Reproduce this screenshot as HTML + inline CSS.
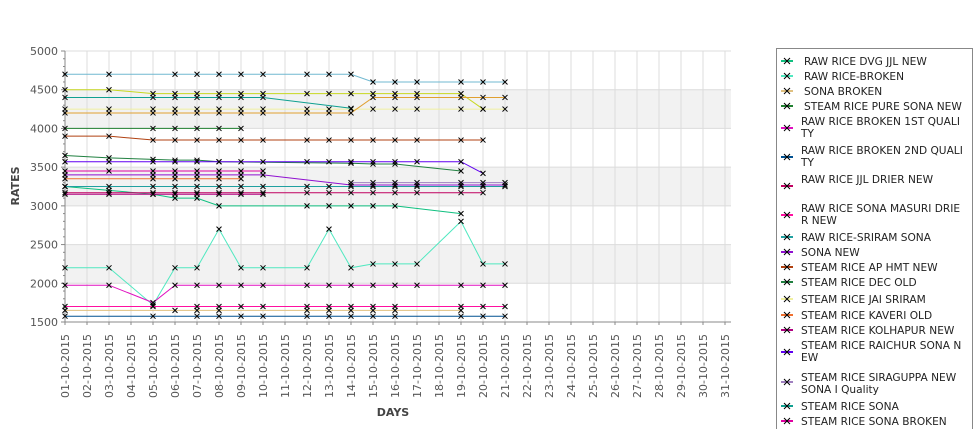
<!DOCTYPE html>
<html><head><meta charset="utf-8"><style>
body{margin:0;background:#fff;width:975px;height:429px;overflow:hidden;font-family:"DejaVu Sans","Liberation Sans",sans-serif}
svg{position:absolute;left:0;top:0}
</style></head><body>
<svg id="chart" width="975" height="429" xmlns="http://www.w3.org/2000/svg"></svg>
<script>
const categories=["01-10-2015","02-10-2015","03-10-2015","04-10-2015","05-10-2015","06-10-2015","07-10-2015","08-10-2015","09-10-2015","10-10-2015","11-10-2015","12-10-2015","13-10-2015","14-10-2015","15-10-2015","16-10-2015","17-10-2015","18-10-2015","19-10-2015","20-10-2015","21-10-2015","22-10-2015","23-10-2015","24-10-2015","25-10-2015","26-10-2015","27-10-2015","28-10-2015","29-10-2015","30-10-2015","31-10-2015"];
const yTicks=[1500,2000,2500,3000,3500,4000,4500,5000];
const seriesNames=["RAW RICE DVG JJL NEW","RAW RICE-BROKEN","SONA BROKEN","STEAM RICE PURE SONA NEW","RAW RICE BROKEN 1ST QUALITY","RAW RICE BROKEN 2ND QUALITY","RAW RICE JJL DRIER NEW","RAW RICE SONA MASURI DRIER NEW","RAW RICE-SRIRAM SONA","SONA NEW","STEAM RICE AP HMT NEW","STEAM RICE DEC OLD","STEAM RICE JAI SRIRAM","STEAM RICE KAVERI OLD","STEAM RICE KOLHAPUR NEW","STEAM RICE RAICHUR SONA NEW","STEAM RICE SIRAGUPPA NEW SONA I Quality","STEAM RICE SONA","STEAM RICE SONA BROKEN","EXTRA A","EXTRA B","EXTRA C"];
const seriesColors=["#10c080","#50e8c0","#e0c080","#208030","#e010c0","#005090","#c00060","#ff10a0","#20a0a0","#9010d0","#b04010","#208040","#f0f0a0","#f07030","#b00080","#6000f0","#a080c0","#10a090","#e000a0","#70b8d0","#c8d820","#e0a030"];
const seriesDays=[
[0,2,4,5,6,7,11,12,13,14,15,18],
[0,2,4,5,6,7,8,9,11,12,13,14,15,16,18,19,20],
[0,5,6,7,11,12,13,14,15,18],
[0,4,5,6,7,8],
[0,2,4,5,6,7,8,9,11,12,13,14,15,16,18,19,20],
[0,4,6,7,8,9,11,12,13,14,15,18,19,20],
[0,2,4,5,6,7,8,9,11,12,13,14,15,16,18,19],
[0,4,6,7,8,9,11,12,13,14,15,18,19,20],
[0,2,4,5,6,7,8,9,11,12,13,14,15,16,18,19,20],
[0,4,5,6,7,8,9,13,14,15,16,18,19,20],
[0,2,4,5,6,7,8,9,11,12,13,14,15,16,18,19],
[0,2,4,5,6,7,13,14,15,18],
[0,2,4,5,6,7,8,9,11,12,13,14,15,16,18,19,20],
[0,4,5,6,7,8],
[0,2,4,5,6,7,8,9],
[0,2,4,5,6,7,8,9,11,12,13,14,15,16,18,19],
[13,14,15,16,18,19,20],
[0,4,5,6,7,8,9,13],
[0,2,4,5,6,7,8,9],
[0,2,5,6,7,8,9,11,12,13,14,15,16,18,19,20],
[0,2,4,5,6,7,8,9,11,12,13,14,15,16,18,19],
[0,2,4,5,6,7,8,9,11,12,13,14,15,16,18,19,20]];
const seriesValues=[
[3250,3200,3150,3100,3100,3000,3000,3000,3000,3000,3000,2900],
[2200,2200,1720,2200,2200,2700,2200,2200,2200,2700,2200,2250,2250,2250,2800,2250,2250],
[1650,1650,1650,1650,1650,1650,1650,1650,1650,1650],
[4000,4000,4000,4000,4000,4000],
[1975,1975,1750,1975,1975,1975,1975,1975,1975,1975,1975,1975,1975,1975,1975,1975,1975],
[1575,1575,1575,1575,1575,1575,1575,1575,1575,1575,1575,1575,1575,1575],
[3170,3170,3170,3170,3170,3170,3170,3170,3170,3170,3170,3170,3170,3170,3170,3170],
[1700,1700,1700,1700,1700,1700,1700,1700,1700,1700,1700,1700,1700,1700],
[3250,3250,3250,3250,3250,3250,3250,3250,3250,3250,3250,3250,3250,3250,3250,3250,3250],
[3400,3400,3400,3400,3400,3400,3400,3270,3270,3270,3270,3270,3270,3270],
[3900,3900,3850,3850,3850,3850,3850,3850,3850,3850,3850,3850,3850,3850,3850,3850],
[3650,3620,3600,3590,3590,3570,3550,3540,3540,3450],
[4250,4250,4250,4250,4250,4250,4250,4250,4250,4250,4250,4250,4250,4250,4250,4250,4250],
[3350,3350,3350,3350,3350,3350],
[3150,3150,3150,3150,3150,3150,3150,3150],
[3570,3570,3570,3570,3570,3570,3570,3570,3570,3570,3570,3570,3570,3570,3570,3420],
[3300,3300,3300,3300,3300,3300,3300],
[4400,4400,4400,4400,4400,4400,4400,4260],
[3450,3450,3450,3450,3450,3450,3450,3450],
[4700,4700,4700,4700,4700,4700,4700,4700,4700,4700,4600,4600,4600,4600,4600,4600],
[4500,4500,4450,4450,4450,4450,4450,4450,4450,4450,4450,4450,4450,4450,4450,4250],
[4200,4200,4200,4200,4200,4200,4200,4200,4200,4200,4200,4400,4400,4400,4400,4400,4400]];
const legendRows=[["RAW RICE DVG JJL NEW"],["RAW RICE-BROKEN"],["SONA BROKEN"],["STEAM RICE PURE SONA NEW"],["RAW RICE BROKEN 1ST QUALI","TY"],["RAW RICE BROKEN 2ND QUALI","TY"],["RAW RICE JJL DRIER NEW"],["RAW RICE SONA MASURI DRIE","R NEW"],["RAW RICE-SRIRAM SONA"],["SONA NEW"],["STEAM RICE AP HMT NEW"],["STEAM RICE DEC OLD"],["STEAM RICE JAI SRIRAM"],["STEAM RICE KAVERI OLD"],["STEAM RICE KOLHAPUR NEW"],["STEAM RICE RAICHUR SONA N","EW"],["STEAM RICE SIRAGUPPA NEW","SONA I Quality"],["STEAM RICE SONA"],["STEAM RICE SONA BROKEN"]];
const legendTextY=[61,76,91,106,121,150,179,208,237,252,267,282,299,315,330,345,377,406,421];
const legendMarkY=[61,76,91,106,128,157,186,215,237,252,267,282,299,315,330,352,382,406,421];

const NS="http://www.w3.org/2000/svg";
const svg=document.getElementById('chart');
const X0=65,DX=22,Y0=322,Y1=51,VMIN=1500,VMAX=5000;
const xs=i=>X0+DX*i;
const ys=v=>Y0-(v-VMIN)/(VMAX-VMIN)*(Y0-Y1);
function mk(tag,attrs,parent){const e=document.createElementNS(NS,tag);for(const k in attrs)e.setAttribute(k,attrs[k]);(parent||svg).appendChild(e);return e;}
const plotR=xs(30)+6;
for(let b=0;b<yTicks.length-1;b++){ if(b%2===1){
 const r=mk('rect',{x:X0,y:ys(yTicks[b+1]),width:plotR-X0,height:ys(yTicks[b])-ys(yTicks[b+1]),fill:'#f2f2f2'});
 
 }}
yTicks.forEach(t=>{const l=mk('line',{x1:X0,x2:plotR,y1:ys(t),y2:ys(t),stroke:'#dcdcdc'});
 
 
 const tx=mk('text',{x:X0-7,y:ys(t)+4,'text-anchor':'end','font-size':'11',fill:'#555'});tx.textContent=t;
 
 
 mk('line',{x1:X0-4,x2:X0,y1:ys(t),y2:ys(t),stroke:'#888'});
 if(t<5000) for(let k=1;k<5;k++){const yy=ys(t+k*100);mk('line',{x1:X0-2,x2:X0,y1:yy,y2:yy,stroke:'#888'});}
});
categories.forEach((c,i)=>{const l=mk('line',{x1:xs(i),x2:xs(i),y1:Y1,y2:Y0,stroke:'#dcdcdc'});
 
 
 const tx=mk('text',{x:0,y:0,'font-size':'11',fill:'#555','text-anchor':'end',transform:`translate(${xs(i)+4},${334}) rotate(-90)`});tx.textContent=c;
 
 
 mk('line',{x1:xs(i),x2:xs(i),y1:Y0,y2:Y0+3,stroke:'#888'});
});
mk('line',{x1:X0,x2:X0,y1:Y1,y2:Y0,stroke:'#888'});
mk('line',{x1:X0,x2:plotR,y1:Y0,y2:Y0,stroke:'#888'});
seriesValues.forEach((vals,s)=>{
 const g=mk('g',{});
 
 
 const pts=vals.map((v,k)=>xs(seriesDays[s][k])+','+ys(v)).join(' ');
 mk('polyline',{points:pts,fill:'none',stroke:seriesColors[s],'stroke-width':1},g);
 vals.forEach((v,k)=>{const x=xs(seriesDays[s][k]),y=ys(v);
  const p=mk('path',{d:`M${x-2.5},${y-2.5}L${x+2.5},${y+2.5}M${x-2.5},${y+2.5}L${x+2.5},${y-2.5}`,stroke:'#000','stroke-width':1},g);
  
  });
});
const yt=mk('text',{x:0,y:0,'font-size':'11','font-weight':'bold',fill:'#444','text-anchor':'middle',transform:'translate(19,186) rotate(-90)'});yt.textContent='RATES';


const xt=mk('text',{x:393,y:416,'font-size':'11','font-weight':'bold',fill:'#444','text-anchor':'middle'});xt.textContent='DAYS';


const lg=mk('g',{});


mk('rect',{x:776.5,y:48.5,width:196,height:390,fill:'#fff',stroke:'#888'},lg);
legendRows.forEach((rows,i)=>{
 const e=mk('g',{},lg);
 
 
 const my=legendMarkY[i];
 mk('line',{x1:781,x2:793,y1:my,y2:my,stroke:seriesColors[i],'stroke-width':2},e);
 mk('path',{d:`M${784},${my-3}L${790},${my+3}M${784},${my+3}L${790},${my-3}`,stroke:'#000'},e);
 rows.forEach((r,j)=>{const t=mk('text',{x:i<4?804:801,y:legendTextY[i]+4+j*12,'font-size':'10.6',fill:'#222'},e);t.textContent=r;});
});
</script>
</body></html>
